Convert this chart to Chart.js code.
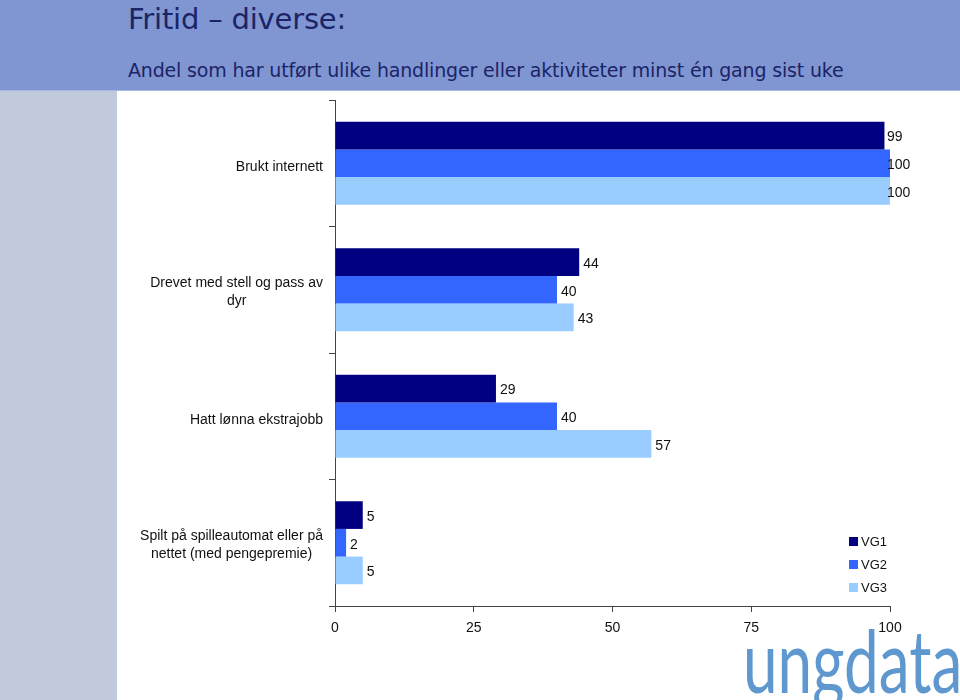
<!DOCTYPE html>
<html>
<head>
<meta charset="utf-8">
<script src="https://cdn.jsdelivr.net/npm/chart.js@4/dist/chart.umd.min.js"></script>
<style>
    html, body { margin: 0; padding: 0; }
    body { width: 960px; height: 700px; position: relative; overflow: hidden; background: #fff; font-family: "DejaVu Sans", sans-serif; }
    #header { position: absolute; left: 0; top: 0; width: 960px; height: 90px; background: #8096d2; border-bottom: 1px solid #a9b8e2; }
    #stripe { position: absolute; left: 0; top: 91px; width: 117px; height: 609px; background: #c0cadc; }
    #title { position: absolute; left: 128px; top: 2px; font-size: 29px; color: #1b2466; letter-spacing: -0.2px; }
    #subtitle { position: absolute; left: 128px; top: 59px; font-size: 19px; color: #1b2466; letter-spacing: -0.17px; }
    #logo { position: absolute; left: 743px; top: 606px; font-family: Lato, sans-serif; font-weight: 400; font-size: 88px; color: #5e98cf; transform-origin: left top; transform: scaleX(0.705); white-space: nowrap; }
    #wrap { position: absolute; left: 118px; top: 90px; width: 842px; height: 610px; }
</style>
</head>
<body>
<div id="header"></div>
<div id="stripe"></div>
<div id="title">Fritid – diverse:</div>
<div id="subtitle">Andel som har utført ulike handlinger eller aktiviteter minst én gang sist uke</div>
<div id="logo">ungdata</div>
<div id="wrap"><canvas id="chart" width="842" height="610"></canvas></div>
<script>
// categories and values (percent)
const categories = [
    ['Brukt internett'],
    ['Drevet med stell og pass av', 'dyr'],
    ['Hatt lønna ekstrajobb'],
    ['Spilt på spilleautomat eller på', 'nettet (med pengepremie)']
];
const vg1 = [99, 44, 29, 5];
const vg2 = [100, 40, 40, 2];
const vg3 = [100, 43, 57, 5];
const xTicks = [0, 25, 50, 75, 100];

const labelFont = '14px "Liberation Sans", Arial, sans-serif';

// value labels at the end of each bar
const valueLabels = {
    id: 'valueLabels',
    afterDatasetsDraw(chart) {
        const ctx = chart.ctx;
        const maxX = chart.chartArea.right - 3;
        ctx.save();
        ctx.font = labelFont;
        ctx.fillStyle = '#111';
        ctx.textBaseline = 'middle';
        ctx.textAlign = 'left';
        chart.data.datasets.forEach((ds, i) => {
            chart.getDatasetMeta(i).data.forEach((bar, j) => {
                ctx.fillText(ds.data[j], Math.min(bar.x + 4, maxX), bar.y + 2);
            });
        });
        ctx.restore();
    }
};

// category labels, lines centred inside a right aligned block
const categoryLabels = {
    id: 'categoryLabels',
    afterDraw(chart) {
        const ctx = chart.ctx;
        const yScale = chart.scales.y;
        const right = chart.chartArea.left - 12;
        ctx.save();
        ctx.font = labelFont;
        ctx.fillStyle = '#111';
        ctx.textAlign = 'center';
        ctx.textBaseline = 'middle';
        categories.forEach((lines, i) => {
            const w = Math.max(...lines.map(l => ctx.measureText(l).width));
            const cx = right - w / 2;
            const cy = yScale.getPixelForValue(i) + 2;
            const lh = 18;
            lines.forEach((l, k) => {
                ctx.fillText(l, cx, cy + (lines.length === 1 ? 2 : 0) + (k - (lines.length - 1) / 2) * lh);
            });
        });
        ctx.restore();
    }
};

// legend in the lower right corner
const cornerLegend = {
    id: 'cornerLegend',
    afterDraw(chart) {
        const ctx = chart.ctx;
        const x = chart.chartArea.right - 41;
        let y = chart.chartArea.bottom - 64;
        ctx.save();
        ctx.font = '13px "Liberation Sans", Arial, sans-serif';
        ctx.textBaseline = 'middle';
        chart.data.datasets.forEach(ds => {
            ctx.fillStyle = ds.backgroundColor;
            ctx.fillRect(x, y - 5, 9, 9);
            ctx.fillStyle = '#111';
            ctx.fillText(ds.label, x + 12, y);
            y += 23;
        });
        ctx.restore();
    }
};

const chartData = {
    labels: categories.map(c => c.join(' ')),
    datasets: [
        { label: 'VG1', data: vg1, backgroundColor: '#000080' },
        { label: 'VG2', data: vg2, backgroundColor: '#3366ff' },
        { label: 'VG3', data: vg3, backgroundColor: '#99ccff' }
    ]
};

const chart = new Chart(document.getElementById('chart'), {
    type: 'bar',
    data: chartData,
    options: {
        indexAxis: 'y',
        responsive: false,
        animation: false,
        layout: { padding: { top: 10, right: 70, left: 0, bottom: 0 } },
        datasets: { bar: { categoryPercentage: 0.656, barPercentage: 1.0 } },
        plugins: {
            legend: { display: false },
            tooltip: { enabled: false }
        },
        scales: {
            x: {
                min: 0,
                max: 100,
                afterBuildTicks: (s) => { s.ticks = xTicks.map(v => ({ value: v })); },
                afterFit: (s) => { s.height = 94; },
                grid: { drawOnChartArea: false, tickLength: 6, color: '#444' },
                border: { color: '#444' },
                ticks: { padding: 8, color: '#111', font: { family: '"Liberation Sans", Arial, sans-serif', size: 14 } }
            },
            y: {
                afterFit: (s) => { s.width = 217; },
                grid: { drawOnChartArea: false, tickLength: 6, color: '#444', offset: true },
                border: { color: '#444' },
                ticks: { display: false }
            }
        }
    },
    plugins: [valueLabels, categoryLabels, cornerLegend]
});
</script>
</body>
</html>
